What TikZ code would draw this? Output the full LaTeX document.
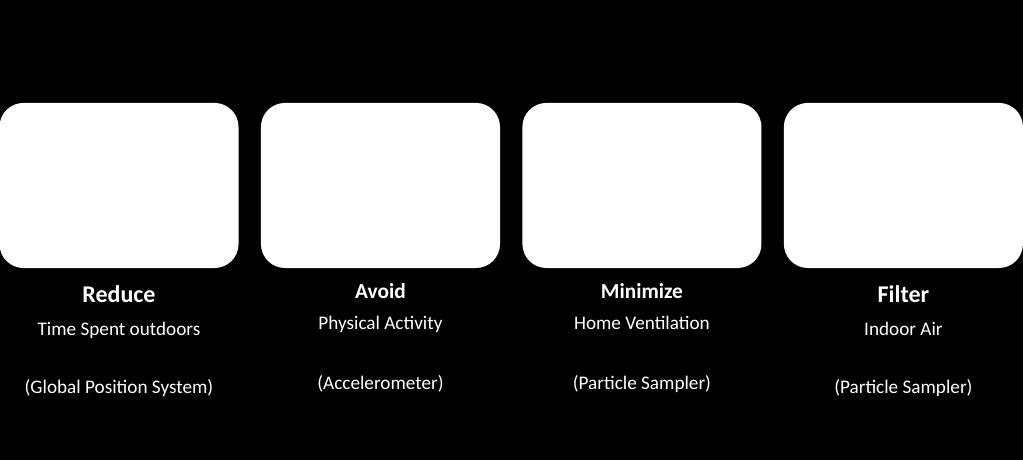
\documentclass[tikz,border=0pt]{standalone}
\usepackage{fontspec}
\setmainfont{Carlito}
\usepackage{tikz}
\usetikzlibrary{positioning}

\begin{document}
\begin{tikzpicture}[node distance=196.1pt,every node/.style={text=white}]
 \tikzstyle{panel}=[fill=white,rounded corners=18pt,minimum width=179.3pt,minimum height=123.8pt,inner sep=0pt]
 \tikzstyle{title}=[anchor=base,inner sep=0pt,font=\bfseries\fontsize{18}{21}\selectfont]
 \tikzstyle{smalltitle}=[title,font=\bfseries\fontsize{16}{19}\selectfont]
 \tikzstyle{detail}=[anchor=base,inner sep=0pt,font=\fontsize{14.4}{17}\selectfont]

   \useasboundingbox (0,0) rectangle (767.25pt,-345pt);
   \fill[black] (0,0) rectangle (767.25pt,-345pt);

   \node[panel] (reduce) at (89.25pt,-139.1pt) {};
   \node[panel] (avoid) [right of = reduce] {};
   \node[panel] (minimize) [right of = avoid] {};
   \node[panel] (filter) [right of = minimize] {};

   \node[title,yshift=-25.3pt] (reducet) at (reduce.south) {Reduce};
   \node[detail,yshift=-50.3pt] (reduced) at (reduce.south) {Time Spent outdoors};
   \node[detail,yshift=-93.8pt] (reduces) at (reduce.south) {(Global Position System)};

   \node[smalltitle,yshift=-22.7pt] (avoidt) at (avoid.south) {Avoid};
   \node[detail,yshift=-46pt] (avoidd) at (avoid.south) {Physical Activity};
   \node[detail,yshift=-90.8pt] (avoids) at (avoid.south) {(Accelerometer)};

   \node[smalltitle,yshift=-22.7pt] (minimizet) at (minimize.south) {Minimize};
   \node[detail,yshift=-46pt] (minimized) at (minimize.south) {Home Ventilation};
   \node[detail,yshift=-90.8pt] (minimizes) at (minimize.south) {(Particle Sampler)};

   \node[title,yshift=-25.3pt] (filtert) at (filter.south) {Filter};
   \node[detail,yshift=-50.3pt] (filterd) at (filter.south) {Indoor Air};
   \node[detail,yshift=-93.8pt] (filters) at (filter.south) {(Particle Sampler)};

\end{tikzpicture}
\end{document}
